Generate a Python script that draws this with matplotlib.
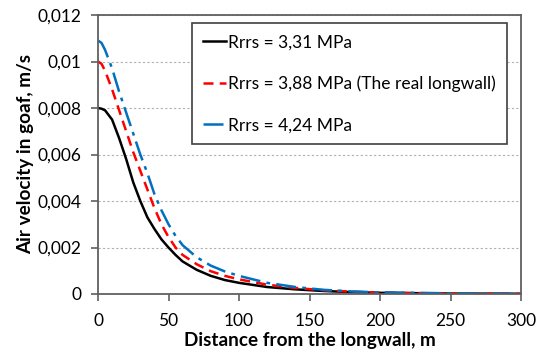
import matplotlib
matplotlib.use("Agg")
import matplotlib.pyplot as plt

# DATA
distance = [0, 2.5, 5, 10, 15, 20, 25, 30, 35, 40, 45, 50, 55, 60, 70, 80, 90, 100,
            120, 140, 160, 180, 200, 250, 300]
v_331 = [0.0080, 0.00797, 0.0079, 0.0075, 0.0067, 0.0058, 0.0048, 0.0040, 0.0033,
         0.0028, 0.00235, 0.0020, 0.00168, 0.0014, 0.00104, 0.00078, 0.0006, 0.00048,
         0.0003, 0.0002, 0.00013, 0.00008, 0.00005, 0.00002, 0.00001]
v_388 = [0.0100, 0.0099, 0.0096, 0.0088, 0.0079, 0.0070, 0.0061, 0.0053, 0.0045,
         0.0037, 0.0030, 0.00245, 0.0020, 0.00168, 0.00128, 0.00098, 0.00078, 0.00063,
         0.0004, 0.00026, 0.00016, 0.0001, 0.00006, 0.00002, 0.00001]
v_424 = [0.0109, 0.0108, 0.0105, 0.0097, 0.0087, 0.0078, 0.0069, 0.0060, 0.0052,
         0.0043, 0.0036, 0.0030, 0.0025, 0.0021, 0.00158, 0.00122, 0.00097, 0.00078,
         0.00048, 0.0003, 0.00018, 0.00011, 0.00007, 0.00003, 0.00001]
labels = ["Rrrs = 3,31 MPa", "Rrrs = 3,88 MPa (The real longwall)", "Rrrs = 4,24 MPa"]
y_ticks = [0, 0.002, 0.004, 0.006, 0.008, 0.01, 0.012]
y_ticklabels = ["0", "0,002", "0,004", "0,006", "0,008", "0,01", "0,012"]
x_ticks = [0, 50, 100, 150, 200, 250, 300]

plt.rcParams["font.family"] = ["Lato", "DejaVu Sans"]

fig = plt.figure(figsize=(5.48, 3.56), dpi=100)
ax = fig.add_axes([98 / 548, 1 - 294 / 356, 423 / 548, 279 / 356])

ax.plot(distance, v_331, color="black", lw=1.8, label=labels[0])
ax.plot(distance, v_388, color="#FF0000", lw=1.8, ls=(0, (4, 2.5)), label=labels[1])
ax.plot(distance, v_424, color="#0070C0", lw=1.8, ls=(0, (8, 2.5, 1.5, 2.5)), label=labels[2])

ax.set_xlim(0, 300)
ax.set_ylim(0, 0.012)
ax.set_xticks(x_ticks)
ax.set_yticks(y_ticks)
ax.set_yticklabels(y_ticklabels)
ax.tick_params(labelsize=12.5, length=5, width=1.2, color="#606060", direction="out")
ax.tick_params(axis="x", pad=8.5)
ax.tick_params(axis="y", pad=7)
ax.yaxis.grid(True, ls=(0, (2, 2)), color="#b0b0b0", lw=0.8)
ax.set_axisbelow(True)
for s in ax.spines.values():
    s.set_color("#606060")
    s.set_linewidth(1.3)

ax.set_xlabel("Distance from the longwall, m", fontsize=13.6, fontweight="bold", labelpad=2)
ax.set_ylabel("Air velocity in goaf, m/s", fontsize=13.6, fontweight="bold", labelpad=2)

leg = ax.legend(loc="upper left", bbox_to_anchor=(192 / 548, 1 - 23 / 356),
                bbox_transform=fig.transFigure, fontsize=12.5, handlelength=1.3,
                handletextpad=0.1, labelspacing=1.45, borderpad=0.65, borderaxespad=0,
                fancybox=False, framealpha=1, edgecolor="#404040")
leg.get_frame().set_linewidth(1.2)

fig.savefig("out.png", dpi=100)
